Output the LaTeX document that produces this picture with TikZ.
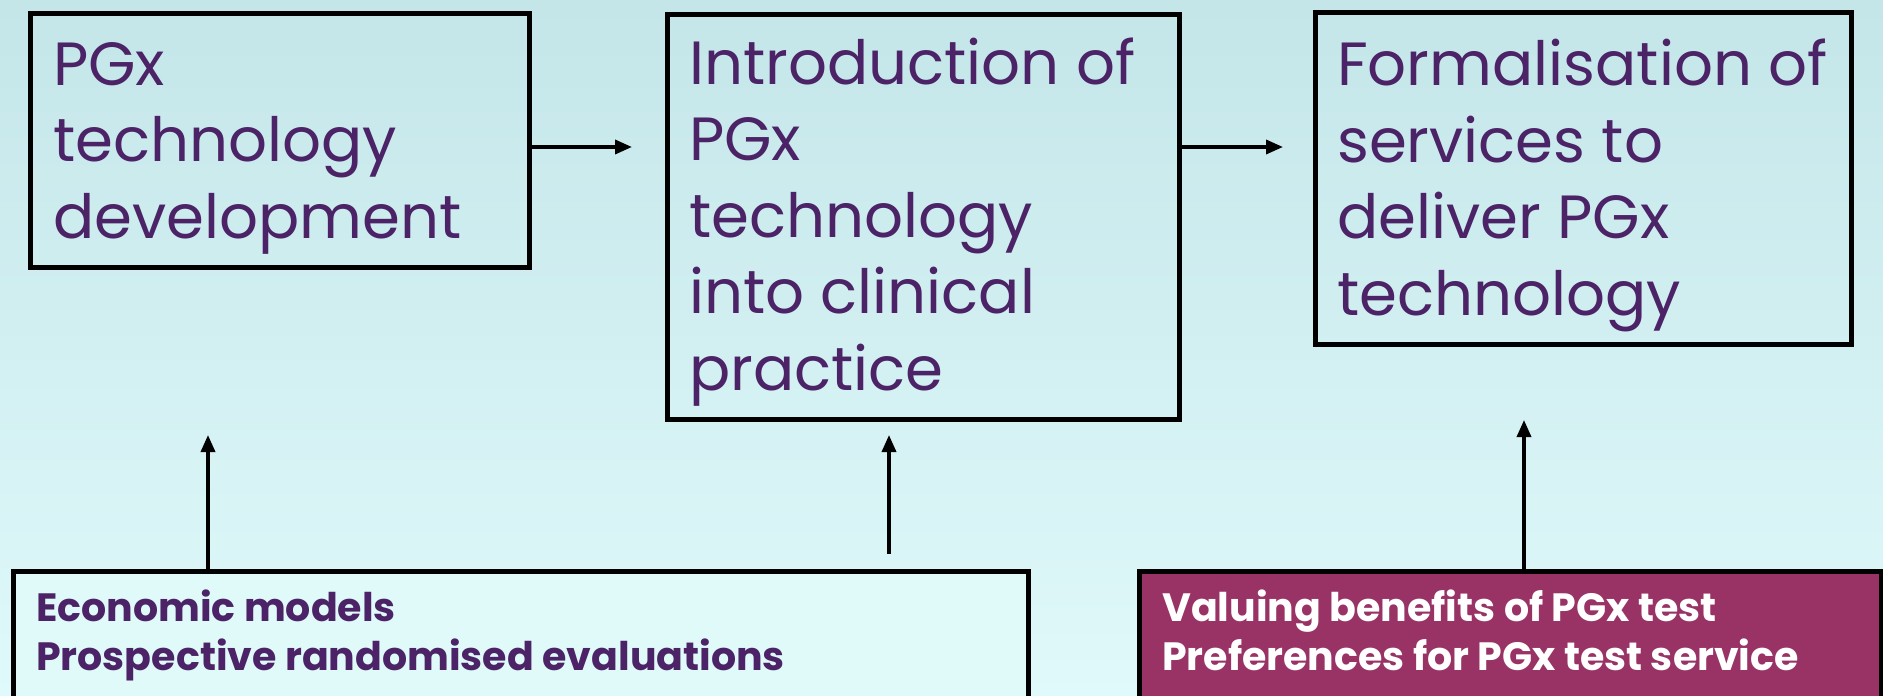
\documentclass[tikz,border=0pt]{standalone}
\usepackage{fontspec}
\setmainfont{Poppins}
\usetikzlibrary{arrows.meta}

\definecolor{bgtop}{RGB}{196,230,233}
\definecolor{bgbot}{RGB}{224,249,250}
\definecolor{pgxpurple}{RGB}{75,35,102}
\definecolor{pgxmaroon}{RGB}{153,51,102}
\definecolor{pgxpale}{RGB}{224,250,250}

\begin{document}
\begin{tikzpicture}[x=1pt,y=-1pt,
  stage/.style={draw=black, line width=5pt, anchor=north west, inner sep=0pt},
  stagetext/.style={anchor=base west, align=left, inner sep=0pt, text=pgxpurple,
    font=\fontsize{61}{76.5}\selectfont},
  methodtext/.style={anchor=base west, align=left, inner sep=0pt,
    font=\bfseries\fontsize{39.5}{49}\selectfont},
  link/.style={-{Triangle[length=17pt,width=14pt]}, line width=3.5pt}]

\useasboundingbox (0,0) rectangle (1883,696);
\shade[top color=bgtop, bottom color=bgbot] (0,0) rectangle (1883,696);

% stages (text placed at the baseline of its last line)
\node[stage, minimum width=499pt, minimum height=254pt] (dev) at (28,11) {};
\node[stagetext] (devtext) at (53,238) {PGx\\technology\\development};

\node[stage, minimum width=512pt, minimum height=405pt] (intro) at (665,12) {};
\node[stagetext] (introtext) at (689,390) {Introduction of\\PGx\\technology\\into clinical\\practice};

\node[stage, minimum width=536pt, minimum height=332pt] (formal) at (1313,10) {};
\node[stagetext] (formaltext) at (1337,315) {Formalisation of\\services to\\deliver PGx\\technology};

% methods
\node[stage, fill=pgxpale, minimum width=1015pt, minimum height=128pt] (econ) at (11,569) {};
\node[methodtext, text=pgxpurple] (econtext) at (36,670) {Economic models\\Prospective randomised evaluations};

\node[stage, fill=pgxmaroon, minimum width=742pt, minimum height=128pt] (value) at (1137,569) {};
\node[methodtext, text=white] (valuetext) at (1162,670) {Valuing benefits of PGx test\\Preferences for PGx test service};

\coordinate (a1) at (632,147);
\coordinate (a2) at (1283,147);
\draw[link] (dev.east |- a1) -- (a1);
\draw[link] (intro.east |- a2) -- (a2);

\coordinate (u1) at (208,435);
\coordinate (u2top) at (889,435);
\coordinate (u2foot) at (889,554);
\coordinate (u3) at (1524,420);
\draw[link] (econ.north -| u1) -- (u1);
\draw[link] (u2foot) -- (u2top);
\draw[link] (value.north -| u3) -- (u3);

\end{tikzpicture}
\end{document}
